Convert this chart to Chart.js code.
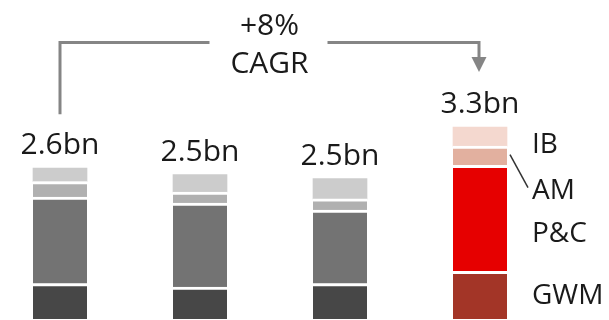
<!DOCTYPE html>
<html>
<head>
<meta charset="utf-8">
<script src="https://cdn.jsdelivr.net/npm/chart.js@4.4.1/dist/chart.umd.min.js"></script>
<style>
  html, body { margin: 0; padding: 0; background: #fff; }
  #wrap { width: 609px; height: 320px; position: relative; }
</style>
</head>
<body>
<div id="wrap"><canvas id="chart"></canvas></div>
<script>
const periods = ['P1', 'P2', 'P3', 'P4'];
const totalLabels = ['2.6bn', '2.5bn', '2.5bn', '3.3bn'];
const segmentNames = ['GWM', 'P&C', 'AM', 'IB'];

const gwm = [0.61, 0.55, 0.61, 0.82];
const pc  = [1.49, 1.45, 1.27, 1.83];
const am  = [0.27, 0.19, 0.19, 0.33];
const ib  = [0.23, 0.30, 0.35, 0.33];

const cagrLines = ['+8%', 'CAGR'];

const greys = ['#474747', '#737373', '#b0b0b0', '#cccccc'];
const reds  = ['#a33527', '#e60000', '#e2b09f', '#f4d8cf'];
const FONT = '"Open Sans", "DejaVu Sans", sans-serif';

function segColors(i) {
  return periods.map((p, j) => j == periods.length - 1 ? reds[i] : greys[i]);
}

const seriesData = [gwm, pc, am, ib];
const datasets = seriesData.map((values, i) => ({
  label: segmentNames[i],
  data: values,
  backgroundColor: segColors(i),
  borderColor: '#ffffff',
  borderWidth: i < 3 ? {top: 3, left: 0, right: 0, bottom: 0} : 0,
  borderSkipped: false,
  barThickness: 54,
  clip: false
}));

// totals labels, CAGR bracket and segment names on the last bar
const annotations = {
  id: 'annotations',
  afterDatasetsDraw(chart) {
    const ctx = chart.ctx;
    const xs = chart.scales.x;
    const ys = chart.scales.y;
    const top = chart.chartArea.top;

    ctx.save();
    ctx.fillStyle = '#1a1a1a';
    ctx.textAlign = 'center';
    ctx.textBaseline = 'alphabetic';
    ctx.font = '30px ' + FONT;

    const baselines = [];
    periods.forEach((p, j) => {
      let total = 0;
      seriesData.forEach(s => total += s[j]);
      const x = xs.getPixelForValue(j);
      const yb = ys.getPixelForValue(total) - 14;
      baselines.push(yb);
      ctx.fillText(totalLabels[j], x, yb);
    });

    // CAGR bracket
    const x0 = xs.getPixelForValue(0);
    const x3 = xs.getPixelForValue(periods.length - 1) - 1;
    const xm = (x0 + x3) / 2;
    const lineY = top + 42.5;
    ctx.strokeStyle = '#858585';
    ctx.lineWidth = 3;
    ctx.beginPath();
    ctx.moveTo(x0, baselines[0] - 40);
    ctx.lineTo(x0, lineY);
    ctx.lineTo(xm - 60, lineY);
    ctx.moveTo(xm + 58, lineY);
    ctx.lineTo(x3, lineY);
    ctx.lineTo(x3, baselines[3] - 55);
    ctx.stroke();
    const tip = baselines[3] - 41;
    ctx.fillStyle = '#858585';
    ctx.beginPath();
    ctx.moveTo(x3 - 7.5, tip - 15);
    ctx.lineTo(x3 + 7.5, tip - 15);
    ctx.lineTo(x3, tip);
    ctx.closePath();
    ctx.fill();

    ctx.fillStyle = '#1a1a1a';
    ctx.fillText(cagrLines[0], xm, top + 35);
    ctx.fillText(cagrLines[1], xm, top + 73);

    // segment names next to the last bar
    const last = periods.length - 1;
    const meta = chart.getDatasetMeta(0);
    const barRight = meta.data[last].x + 27;
    const nudges = [1, 16, 35, 8];
    ctx.font = '28px ' + FONT;
    ctx.textAlign = 'left';
    ctx.textBaseline = 'middle';
    let base = 0;
    seriesData.forEach((s, i) => {
      const y0 = ys.getPixelForValue(base);
      const y1 = ys.getPixelForValue(base + s[last]);
      base += s[last];
      const mid = (y0 + y1) / 2;
      ctx.fillText(segmentNames[i], barRight + 25, mid + nudges[i]);
      if (segmentNames[i] == 'AM') {
        ctx.strokeStyle = '#333333';
        ctx.lineWidth = 1.5;
        ctx.beginPath();
        ctx.moveTo(barRight + 3, mid - 1);
        ctx.lineTo(barRight + 21, mid + 32);
        ctx.stroke();
      }
    });
    ctx.restore();
  }
};

new Chart(document.getElementById('chart'), {
  type: 'bar',
  data: {
    labels: periods,
    datasets: datasets
  },
  options: {
    responsive: true,
    maintainAspectRatio: false,
    animation: false,
    layout: {
      padding: {left: 60, right: 129, top: 0, bottom: 1}
    },
    plugins: {
      legend: {display: false},
      tooltip: {enabled: false}
    },
    scales: {
      x: {
        stacked: true,
        display: false,
        offset: false
      },
      y: {
        stacked: true,
        display: false,
        min: 0,
        max: 5.5
      }
    }
  },
  plugins: [annotations]
});
</script>
</body>
</html>
